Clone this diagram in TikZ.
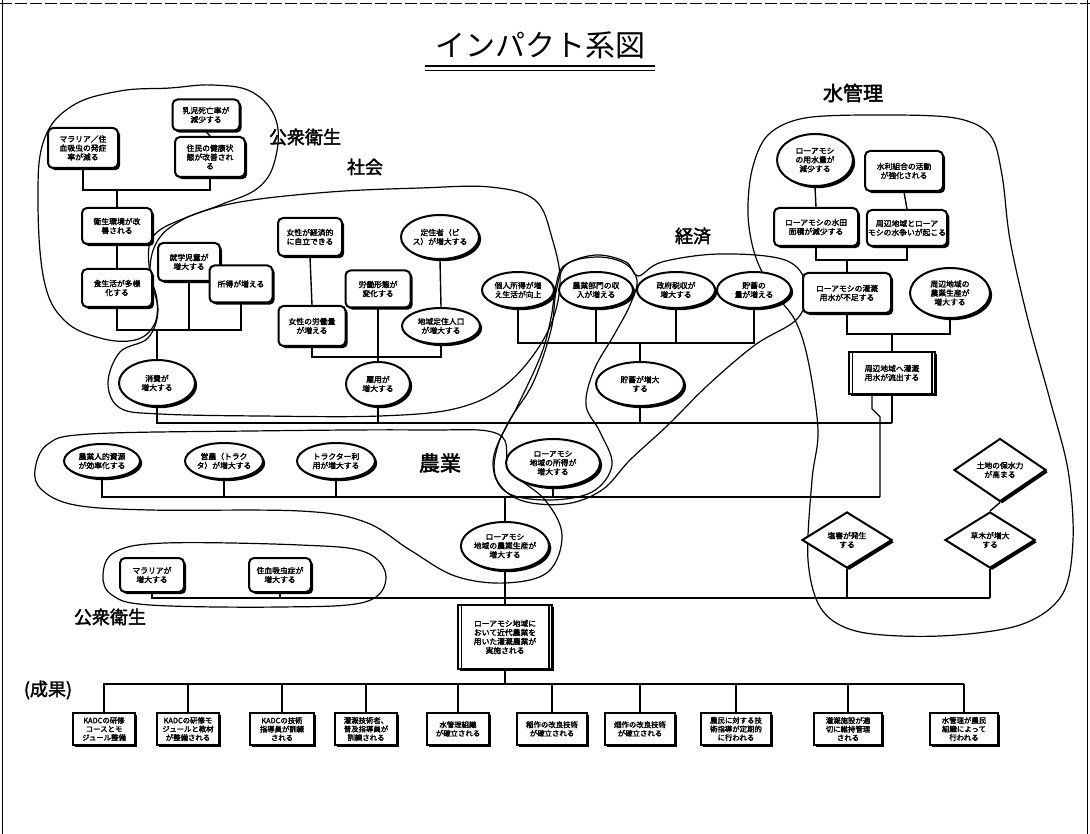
\documentclass[tikz,border=0pt]{standalone}
\usepackage{fontspec}
\setmainfont{Noto Sans CJK JP}
\newfontfamily\jpheavy{Noto Sans CJK JP}[FakeBold=2.2]
\usetikzlibrary{shapes.geometric,shadows}
\pgfdeclarelayer{bg}
\pgfsetlayers{bg,main}
\tikzset{
  base/.style={draw, line width=2pt, fill=white, align=center,
    font=\jpheavy\fontsize{7.8}{9}\selectfont, inner sep=1.2pt,
    drop shadow={shadow xshift=2.2pt, shadow yshift=-2.2pt, opacity=1, fill=black}},
  sz/.style 2 args={minimum width=#1pt, minimum height=#2pt},
  rbox/.style={base, rectangle, rounded corners=5pt},
  ell/.style={base, ellipse, inner sep=0pt},
  dia/.style={base, diamond, inner sep=0pt},
  obox/.style={base, rectangle, font=\jpheavy\fontsize{7.4}{8.6}\selectfont},
  pbox/.style={base, rectangle, line width=1.5pt},
  grp/.style={line width=1.2pt},
  wire/.style={line width=1.4pt},
  lbl/.style={font=\jpheavy\fontsize{18}{20}\selectfont},
}
\begin{document}
\begin{tikzpicture}[x=1pt,y=-1pt]
\useasboundingbox (0,0) rectangle (1090,834);
% frame
\draw[line width=1.2pt] (2.5,0) -- (2.5,834);
\draw[line width=0.6pt] (1087.5,0) -- (1087.5,834);
\draw[line width=0.7pt, dashed, dash pattern=on 12pt off 3pt] (0,3) -- (1090,3);

% title and labels
\node[font=\fontsize{30}{32}\selectfont] (title) at (540,45) {インパクト系図};
\draw[line width=1.6pt] (425,66) -- (655,66);
\draw[line width=0.8pt] (425,70.5) -- (655,70.5);
\node[lbl] (Lph1) at (305,137) {公衆衛生};
\node[lbl] (Lsoc) at (365,167) {社会};
\node[lbl] (Leco) at (693,236) {経済};
\node[lbl, font=\jpheavy\fontsize{20}{22}\selectfont] (Lwat) at (853,93) {水管理};
\node[lbl, font=\jpheavy\fontsize{21}{22}\selectfont] (Lagr) at (440,463) {農業};
\node[lbl] (Lph2) at (110,617) {公衆衛生};
\node[lbl] (Lres) at (48,690) {(成果)};

% public health (top)
\node[rbox, sz={67}{31}] (A1) at (206,115) {乳児死亡率が\\減少する};
\node[rbox, sz={70}{40}] (A2) at (210,157) {住民の健康状\\態が改善され\\る};
\node[rbox, sz={70}{40}] (A3) at (83,148) {マラリア／住\\血吸虫の発症\\率が減る};
\node[rbox, sz={70}{36}] (A4) at (117,226) {衛生環境が改\\善される};
\node[rbox, sz={70}{38}] (A5) at (117,288) {食生活が多様\\化する};

% society
\node[rbox, sz={62}{38}] (B1) at (189,262) {就学児童が\\増大する};
\node[rbox, sz={63}{37}] (B2) at (241,284) {所得が増える};
\node[ell, sz={76}{46}] (B3) at (157,383) {消費が\\増大する};
\node[rbox, sz={64}{38}] (B4) at (310,237) {女性が経済的\\に自立できる};
\node[rbox, sz={67}{40}] (B5) at (312,326) {女性の労働量\\が増える};
\node[rbox, sz={65}{37}] (B6) at (378,289) {労働形態が\\変化する};
\node[ell, sz={78}{44}] (B7) at (440,237) {定住者（ビ\\ス）が増大する};
\node[ell, sz={78}{36}] (B8) at (441,326) {地域定住人口\\が増大する};
\node[ell, sz={64}{44}] (B9) at (378,384) {雇用が\\増大する};

% economy
\node[ell, sz={72}{36}] (C1) at (518,290) {個人所得が増\\え生活が向上};
\node[ell, sz={74}{36}] (C2) at (596,290) {農業部門の収\\入が増える};
\node[ell, sz={78}{36}] (C3) at (676,290) {政府税収が\\増大する};
\node[ell, sz={74}{36}] (C4) at (754,290) {貯蓄の\\量が増える};
\node[ell, sz={88}{44}] (C5) at (640,384) {貯蓄が増大\\する};

% agriculture
\node[ell, sz={76}{34}] (D1) at (102,461) {農業人的資源\\が効率化する};
\node[ell, sz={78}{36}] (D2) at (224,461) {営農（トラク\\タ）が増大する};
\node[ell, sz={78}{36}] (D3) at (336,461) {トラクター利\\用が増大する};
\node[ell, sz={94}{48}] (D4) at (553,463) {ローアモシ\\地域の所得が\\増大する};
\node[ell, sz={88}{48}] (D5) at (505,546) {ローアモシ\\地域の農業生産が\\増大する};

% public health (bottom)
\node[rbox, sz={64}{34}] (E1) at (152,575) {マラリアが\\増大する};
\node[rbox, sz={62}{34}] (E2) at (280,575) {住血吸虫症が\\増大する};

% project
\node[pbox, sz={94}{64}] (P) at (505,637) {ローアモシ地域に\\おいて近代農業を\\用いた灌漑農業が\\実施される};
\draw[line width=1.5pt] ([xshift=4pt]P.north west) -- ([xshift=4pt]P.south west);
\draw[line width=1.5pt] ([xshift=-4pt]P.north east) -- ([xshift=-4pt]P.south east);

% water management
\node[ell, sz={76}{52}] (W1) at (815,160) {ローアモシ\\の用水量が\\減少する};
\node[rbox, sz={78}{40}] (W2) at (904,171) {水利組合の活動\\が強化される};
\node[rbox, sz={84}{38}] (W3) at (816,227) {ローアモシの水田\\面積が減少する};
\node[rbox, sz={80}{36}] (W4) at (907,228) {周辺地域とローア\\モシの水争いが起こる};
\node[rbox, sz={88}{40}] (W5) at (847,293) {ローアモシの灌漑\\用水が不足する};
\node[ell, sz={80}{50}] (W6) at (950,293) {周辺地域の\\農業生産が\\増大する};
\node[pbox, sz={86}{42}] (W7) at (892,373) {周辺地域へ灌漑\\用水が流出する};
\draw[line width=1.5pt] ([xshift=4pt]W7.north west) -- ([xshift=4pt]W7.south west);
\draw[line width=1.5pt] ([xshift=-4pt]W7.north east) -- ([xshift=-4pt]W7.south east);
\node[dia, sz={92}{56}] (M1) at (1000,470) {土地の保水力\\が高まる};
\node[dia, sz={90}{56}] (M2) at (990,540) {草木が増大\\する};
\node[dia, sz={90}{56}] (M3) at (847,540) {塩害が発生\\する};

% outcomes
\node[obox, sz={62}{32}] (O1) at (104,729) {KADCの研修\\コースとモ\\ジュール整備};
\node[obox, sz={62}{32}] (O2) at (188,729) {KADCの研修モ\\ジュールと教材\\が整備される};
\node[obox, sz={64}{32}] (O3) at (282,729) {KADCの技術\\指導員が訓練\\される};
\node[obox, sz={62}{32}] (O4) at (366,729) {灌漑技術者、\\普及指導員が\\訓練される};
\node[obox, sz={62}{32}] (O5) at (458,729) {水管理組織\\が確立される};
\node[obox, sz={70}{32}] (O6) at (552,729) {稲作の改良技術\\が確立される};
\node[obox, sz={70}{32}] (O7) at (640,729) {畑作の改良技術\\が確立される};
\node[obox, sz={70}{32}] (O8) at (736,729) {農民に対する技\\術指導が定期的\\に行われる};
\node[obox, sz={68}{32}] (O9) at (848,729) {灌漑施設が適\\切に維持管理\\される};
\node[obox, sz={68}{32}] (O10) at (964,729) {水管理が農民\\組織によって\\行われる};

% junction coordinates
\coordinate (ja) at (117,190);
\coordinate (jb) at (157,330);
\coordinate (jc) at (378,357);
\coordinate (jd) at (640,343);
\coordinate (je) at (892,423);
\coordinate (jf) at (880,497);
\coordinate (jg) at (847,260);
\coordinate (jh) at (892,334);
\coordinate (ji) at (990,598);
\coordinate (jk) at (964,684);

\begin{pgfonlayer}{bg}
% group outlines
\draw[grp] plot[smooth cycle, tension=0.65] coordinates {(38,200)(44,140)(72,106)(120,91)(170,88)(212,85)(252,92)(276,120)(275,160)(258,188)(220,205)(182,220)(158,240)(150,270)(157,300)(154,325)(135,340)(100,338)(64,320)(44,280)};
\draw[grp] plot[smooth cycle, tension=0.6] coordinates {(152,238)(185,218)(240,202)(330,192)(420,188)(490,187)(535,200)(552,238)(560,285)(546,335)(508,383)(458,408)(380,416)(260,416)(160,414)(120,408)(108,383)(120,352)(148,338)(158,310)(150,275)};
\draw[grp] plot[smooth cycle, tension=0.6] coordinates {(556,285)(565,265)(596,255)(626,262)(638,276)(662,262)(720,254)(785,260)(806,285)(798,318)(755,345)(708,385)(668,425)(630,460)(602,490)(565,504)(520,500)(496,478)(498,445)(518,405)(541,355)(551,318)};
\draw[grp] plot[smooth cycle, tension=0.6] coordinates {(596,257)(566,265)(556,292)(551,330)(533,383)(508,423)(493,462)(506,492)(548,500)(592,492)(612,465)(600,432)(586,405)(594,370)(614,335)(630,305)(637,280)(624,263)};
\draw[grp] plot[smooth cycle, tension=0.6] coordinates {(35,470)(48,444)(90,434)(250,431)(420,430)(498,434)(510,470)(545,500)(562,535)(548,572)(505,583)(455,576)(410,550)(365,522)(300,511)(150,510)(75,505)(42,490)};
\draw[grp] plot[smooth cycle, tension=0.6] coordinates {(103,575)(115,552)(165,543)(300,545)(365,552)(386,577)(365,602)(280,607)(150,605)(112,595)};
\draw[grp] plot[smooth cycle, tension=0.55] coordinates {(752,170)(768,135)(805,118)(880,115)(955,118)(990,135)(1002,175)(1010,240)(1028,320)(1050,400)(1068,470)(1073,540)(1062,595)(1020,625)(940,636)(860,632)(822,610)(808,560)(812,480)(818,430)(808,360)(795,320)(772,290)(755,255)(748,215)};

% connectors
\draw[wire] (A1.south) -- (A2.north);
\draw[wire] (A3.south) |- (ja) -- (A4.north);
\draw[wire] (A2.south) |- (ja);
\draw[wire] (A4.south) -- (A5.north);
\draw[wire] (A5.south) |- (jb);
\draw[wire] (B1.south) |- (jb);
\draw[wire] (B2.south) |- (jb);
\draw[wire] (jb) -- (B3.north);
\draw[wire] (B4.south) -- (B5.north);
\draw[wire] (B7.south) -- (B8.north);
\draw[wire] (B5.south) |- (jc);
\draw[wire] (B8.south) |- (jc);
\draw[wire] (B6.south) -- (B9.north);
\draw[wire] (C1.south) |- (jd);
\draw[wire] (C2.south) |- (jd);
\draw[wire] (C3.south) |- (jd);
\draw[wire] (C4.south) |- (jd);
\draw[wire] (jd) -- (C5.north);
\draw[wire] (B3.south) |- (je);
\draw[wire] (B9.south) -- (B9.south |- je);
\draw[wire] (C5.south) -- (C5.south |- je);
\draw[wire] (W7.south) -- (je);
\draw[wire] ([xshift=-20pt]W7.south) -- ++(0,14) -- ++(8,8) -- (jf);
\draw[wire] (W1.south) -- (W3.north);
\draw[wire] (W2.south) -- (W4.north);
\draw[wire] (W3.south) |- (jg);
\draw[wire] (W4.south) |- (jg);
\draw[wire] (jg) -- (W5.north);
\draw[wire] (W5.south) |- (jh);
\draw[wire] (W6.south) |- (jh);
\draw[wire] (jh) -- (W7.north);
\draw[wire] (D1.south) |- (jf);
\draw[wire] (D2.south) -- (D2.south |- jf);
\draw[wire] (D3.south) -- (D3.south |- jf);
\draw[wire] (D4.south) -- (D4.south |- jf);
\draw[wire] (D5.north) -- (D5.north |- jf);
\draw[wire] (D5.south) -- (P.north);
\draw[wire] (E1.south) |- (ji);
\draw[wire] (E2.south) -- (E2.south |- ji);
\draw[wire] (M3.south) -- (M3.south |- ji);
\draw[wire] (M2.south) -- (ji);
\draw[wire] (M1.south) -- (M2.north);
\draw[wire] (O1.north) |- (jk);
\draw[wire] (O10.north) -- (jk);
\draw[wire] (P.south) -- (P.south |- jk);
\foreach \n in {O2,O3,O4,O5,O6,O7,O8,O9}{
  \draw[wire] (\n.north) -- (\n.north |- jk);
}
\end{pgfonlayer}
\end{tikzpicture}
\end{document}
